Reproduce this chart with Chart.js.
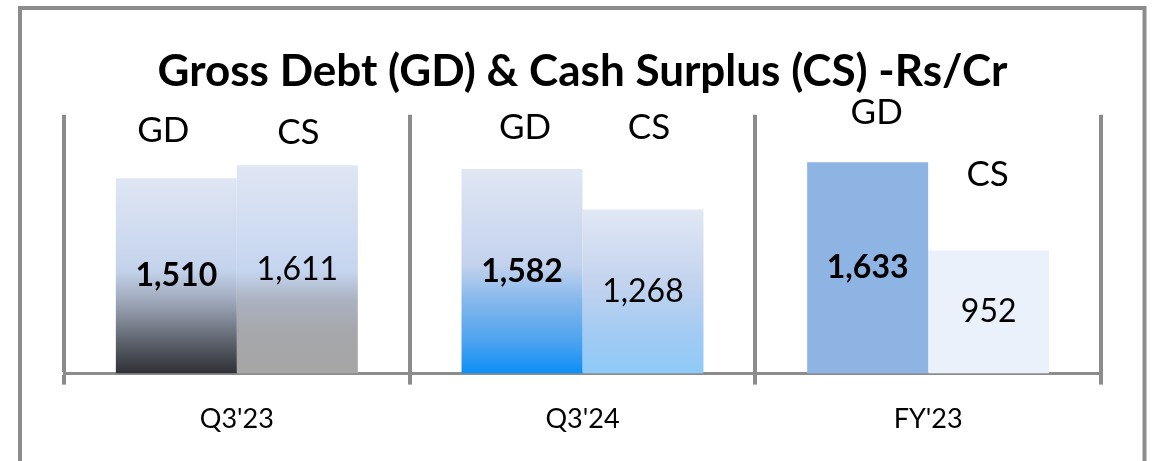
<!DOCTYPE html>
<html>
<head>
<meta charset="utf-8">
<script src="https://cdn.jsdelivr.net/npm/chart.js@4.4.0/dist/chart.umd.min.js"></script>
<style>
    html, body { margin: 0; padding: 0; background: #fff; }
    #wrap { position: relative; width: 1152px; height: 461px; }
</style>
</head>
<body>
<div id="wrap"><canvas id="barChart"></canvas></div>
<script>
var categories = ["Q3'23", "Q3'24", "FY'23"];
var grossDebt = [1510, 1582, 1633];
var cashSurplus = [1611, 1268, 952];
var seriesNames = ['GD', 'CS'];
var chartTitle = 'Gross Debt (GD) & Cash Surplus (CS) -Rs/Cr';

// fills per bar: gradient stops (top -> bottom) or a plain colour
var gdFills = [
    [[0, '#dfe6f4'], [0.47, '#c4d3ec'], [0.65, '#99a2b3'], [0.85, '#595e68'], [1, '#2f3035']],
    [[0, '#e0e7f4'], [0.47, '#c3d2ed'], [0.64, '#86b8ec'], [0.85, '#4aa2f0'], [1, '#0a8ef6']],
    '#8eb4e3'
];
var csFills = [
    [[0, '#dfe6f4'], [0.51, '#c5d5ef'], [0.65, '#aab1c0'], [0.8, '#a6a7ab'], [1, '#a6a6a6']],
    [[0, '#e1e8f5'], [0.45, '#c3d3ee'], [0.75, '#a2cbf3'], [1, '#8ecaf8']],
    '#eaf1fa'
];

function barFill(fills) {
    return function (c) {
        var f = fills[c.dataIndex];
        if (typeof f === 'string') return f;
        var chart = c.chart;
        var y = chart.scales.y;
        if (!chart.chartArea || !y) return f[0][1];
        var top = y.getPixelForValue(c.dataset.data[c.dataIndex]);
        var bottom = y.getPixelForValue(0);
        var g = chart.ctx.createLinearGradient(0, top, 0, bottom);
        f.forEach(function (s) { g.addColorStop(s[0], s[1]); });
        return g;
    };
}

var frame = {
    id: 'frame',
    beforeDraw: function (chart) {
        var ctx = chart.ctx;
        ctx.save();
        ctx.strokeStyle = '#8c8c8c';
        ctx.lineWidth = 4;
        ctx.strokeRect(20, 8, 1124.5, 500);
        ctx.restore();
    }
};

var barLabels = {
    id: 'barLabels',
    afterDatasetsDraw: function (chart, args, opts) {
        var ctx = chart.ctx;
        ctx.save();
        ctx.textAlign = 'center';
        ctx.textBaseline = 'middle';
        ctx.fillStyle = '#000';
        chart.data.datasets.forEach(function (ds, di) {
            chart.getDatasetMeta(di).data.forEach(function (bar, i) {
                ctx.font = (di === 0 ? 'bold ' : '') + '32px Lato';
                ctx.fillText(ds.data[i].toLocaleString('en-US'), bar.x, (bar.y + bar.base) / 2);
                var off = opts.nameOffsets[di][i];
                ctx.font = '35px Lato';
                ctx.fillText(ds.label, bar.x + off[0], bar.y - off[1]);
            });
        });
        ctx.restore();
    }
};

var ctx = document.getElementById('barChart').getContext('2d');
var barChart = new Chart(ctx, {
    type: 'bar',
    data: {
        labels: categories,
        datasets: [{
            label: seriesNames[0],
            data: grossDebt,
            backgroundColor: barFill(gdFills),
            borderWidth: 0
        }, {
            label: seriesNames[1],
            data: cashSurplus,
            backgroundColor: barFill(csFills),
            borderWidth: 0
        }]
    },
    options: {
        responsive: true,
        maintainAspectRatio: false,
        animation: false,
        datasets: {
            bar: { categoryPercentage: 0.7, barPercentage: 1.0 }
        },
        layout: {
            padding: { left: 64, right: 51, top: 0, bottom: 8 }
        },
        scales: {
            x: {
                grid: {
                    offset: true,
                    color: '#8c8c8c',
                    lineWidth: 4,
                    tickLength: 11
                },
                border: { color: '#8c8c8c', width: 3 },
                ticks: {
                    color: '#000',
                    padding: 18,
                    font: { family: 'Lato', size: 27 }
                }
            },
            y: {
                display: false,
                min: 0,
                max: 2000
            }
        },
        plugins: {
            legend: { display: false },
            tooltip: { enabled: false },
            title: {
                display: true,
                text: chartTitle,
                color: '#000',
                font: { family: 'Lato', size: 44, weight: 'bold', lineHeight: 1.2 },
                padding: { top: 45, bottom: 17 }
            },
            barLabels: {
                nameOffsets: [
                    [[-13, 47], [3, 41], [9, 50]],
                    [[1, 32], [6, 82], [-1, 76]]
                ]
            }
        }
    },
    plugins: [frame, barLabels]
});
</script>
</body>
</html>
